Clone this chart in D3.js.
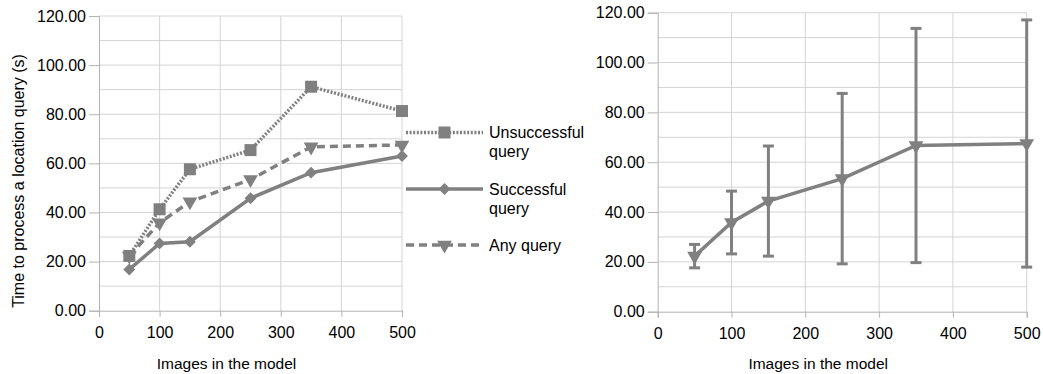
<!DOCTYPE html>
<html><head><meta charset="utf-8">
<script src="https://cdn.jsdelivr.net/npm/d3@7"></script>
<style>body{margin:0;background:#fff}svg{display:block}text{font-family:"Liberation Sans",Arial,sans-serif;fill:#000}</style>
</head><body>
<script>
const images = [50, 100, 150, 250, 350, 500];
const unsuccessful = [22.3, 41.3, 57.6, 65.4, 91.2, 81.3];
const successful = [16.8, 27.4, 28.1, 45.8, 56.2, 63.0];
const anyQuery = [22.3, 35.8, 44.4, 53.4, 66.7, 67.5];
const anyError = [4.7, 12.6, 22.1, 34.2, 47.0, 49.6];
const xTicks = [0, 100, 200, 300, 400, 500];
const yTicks = [0, 20, 40, 60, 80, 100, 120];
const legendLabels = [["Unsuccessful", "query"], ["Successful", "query"], ["Any query"]];
const xTitle = "Images in the model";
const yTitle = "Time to process a location query (s)";

const W = 1043, H = 374, grey = "#808080", grid = "#d4d4d4", axisCol = "#b3b3b3";
const svg = d3.select("body").append("svg").attr("width", W).attr("height", H);

function panel(x0, x1, y0, y1) {
  const x = d3.scaleLinear().domain([0, 500]).range([x0, x1]);
  const y = d3.scaleLinear().domain([0, 120]).range([y1, y0]);
  const g = svg.append("g");
  g.selectAll(".hg").data(d3.range(10, 121, 10)).join("line")
    .attr("x1", x0).attr("x2", x1).attr("y1", d => y(d)).attr("y2", d => y(d))
    .attr("stroke", grid).attr("stroke-width", 1);
  g.selectAll(".vg").data(xTicks.slice(1)).join("line")
    .attr("x1", d => x(d)).attr("x2", d => x(d)).attr("y1", y0).attr("y2", y1)
    .attr("stroke", grid).attr("stroke-width", 1);
  const ya = g.append("g").attr("transform", `translate(${x0},0)`)
    .call(d3.axisLeft(y).tickValues(yTicks).tickFormat(d3.format(".2f")).tickSize(10).tickPadding(3));
  const xa = g.append("g").attr("transform", `translate(0,${y1})`)
    .call(d3.axisBottom(x).tickValues(xTicks).tickSize(6).tickPadding(10));
  [ya, xa].forEach(a => {
    a.select(".domain").attr("stroke", axisCol);
    a.selectAll(".tick line").attr("stroke", axisCol);
    a.selectAll("text").style("font-size", "16px").attr("fill", "#000")
      .style("font-family", '"Liberation Sans",Arial,sans-serif');
  });
  g.append("text").attr("x", (x0 + x1) / 2 - 24).attr("y", 369).attr("text-anchor", "middle")
    .style("font-size", "15.5px").text(xTitle);
  return {x, y, g};
}

const sym = {
  square: d3.symbol().type(d3.symbolSquare).size(144),
  diamond: d3.symbol().type(d3.symbolDiamond2).size(90),
  tri: d3.symbol().type(d3.symbolTriangle).size(95)
};
function drawMarker(g, type, cx, cy) {
  g.append("path").attr("d", sym[type]())
    .attr("transform", `translate(${cx},${cy})` + (type === "tri" ? " rotate(180)" : ""))
    .attr("fill", grey);
}

const L = panel(99, 402, 16, 310.7);
svg.append("text").attr("transform", "translate(24,181) rotate(-90)").attr("text-anchor", "middle")
  .style("font-size", "16px").text(yTitle);
const series = [
  {vals: unsuccessful, dash: "2,1.6", m: "square"},
  {vals: successful, dash: null, m: "diamond"},
  {vals: anyQuery, dash: "8,5", m: "tri"}
];
const line = (sx, sy) => d3.line().x((d, i) => sx(images[i])).y(d => sy(d));
series.forEach(s => {
  L.g.append("path").datum(s.vals).attr("d", line(L.x, L.y)).attr("fill", "none")
    .attr("stroke", grey).attr("stroke-width", 3.5).attr("stroke-dasharray", s.dash);
});
[2, 1, 0].forEach(k => {
  const s = series[k];
  s.vals.forEach((v, i) => drawMarker(L.g, s.m, L.x(images[i]), L.y(v)));
});
const legY = [132.5, 189, 245];
series.forEach((s, k) => {
  svg.append("line").attr("x1", 406).attr("x2", 483).attr("y1", legY[k]).attr("y2", legY[k])
    .attr("stroke", grey).attr("stroke-width", 3.5).attr("stroke-dasharray", s.dash);
  drawMarker(svg, s.m, 444.5, legY[k]);
  legendLabels[k].forEach((t, j) => {
    svg.append("text").attr("x", 489).attr("y", legY[k] + 5.5 + j * 19)
      .style("font-size", "16px").text(t);
  });
});

const R = panel(657.7, 1026.7, 12.7, 311.7);
const eb = R.g.append("g");
anyQuery.forEach((v, i) => {
  const cx = R.x(images[i]), lo = R.y(v - anyError[i]), hi = R.y(v + anyError[i]);
  eb.append("line").attr("x1", cx).attr("x2", cx).attr("y1", lo).attr("y2", hi)
    .attr("stroke", grey).attr("stroke-width", 3);
  [lo, hi].forEach(yy => eb.append("line").attr("x1", cx - 5.5).attr("x2", cx + 5.5)
    .attr("y1", yy).attr("y2", yy).attr("stroke", grey).attr("stroke-width", 3));
});
R.g.append("path").datum(anyQuery).attr("d", line(R.x, R.y)).attr("fill", "none")
  .attr("stroke", grey).attr("stroke-width", 3.5);
anyQuery.forEach((v, i) => drawMarker(R.g, "tri", R.x(images[i]), R.y(v)));
</script>
</body></html>
